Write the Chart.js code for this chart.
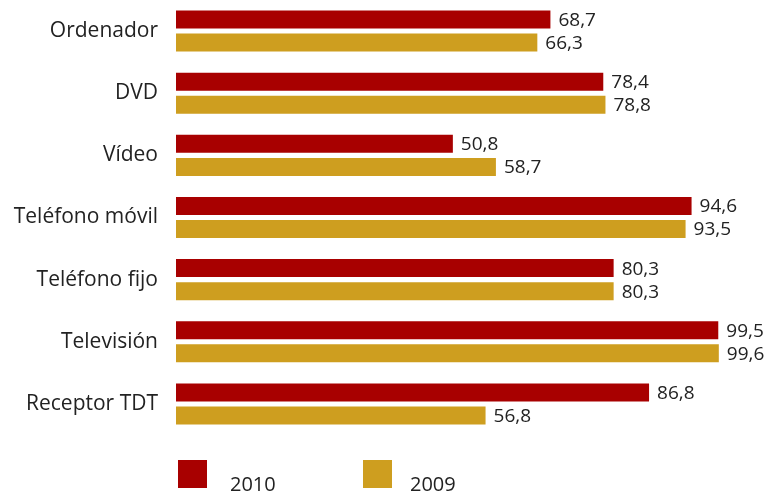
<!DOCTYPE html>
<html><head><meta charset="utf-8">
<script src="https://cdn.jsdelivr.net/npm/chart.js@4/dist/chart.umd.min.js"></script>
<style>html,body{margin:0;padding:0;background:#fff}#wrap{width:769px;height:492px}</style>
</head><body><div id="wrap"><canvas id="c"></canvas></div>
<script>
const categories = ["Ordenador","DVD","Vídeo","Teléfono móvil","Teléfono fijo","Televisión","Receptor TDT"];
const values2010 = [68.7,78.4,50.8,94.6,80.3,99.5,86.8];
const values2009 = [66.3,78.8,58.7,93.5,80.3,99.6,56.8];
const seriesLabels = ["2010","2009"];
const colors = ["#A80000","#CE9E1F"];
const FONT = "'Open Sans', sans-serif";

const valueLabels = {
  id:'valueLabels',
  afterDatasetsDraw(chart){
    const ctx = chart.ctx;
    ctx.save();
    ctx.fillStyle = '#222';
    ctx.font = '19px ' + FONT;
    ctx.textBaseline = 'middle';
    ctx.textAlign = 'left';
    chart.data.datasets.forEach((ds,i)=>{
      chart.getDatasetMeta(i).data.forEach((bar,j)=>{
        ctx.fillText(ds.data[j].toFixed(1).replace('.',','), bar.x + 8, bar.y + 1);
      });
    });
    ctx.restore();
  }
};
const customLegend = {
  id:'customLegend',
  afterDraw(chart){
    const ctx = chart.ctx;
    ctx.save();
    const xs = [178, 363];
    const tx = [230, 410];
    chart.data.datasets.forEach((ds,i)=>{
      ctx.fillStyle = ds.backgroundColor;
      ctx.fillRect(xs[i], 460, 29, 28);
      ctx.fillStyle = '#222';
      ctx.font = '20px ' + FONT;
      ctx.textBaseline = 'alphabetic';
      ctx.textAlign = 'left';
      ctx.fillText(ds.label, tx[i], 491);
    });
    ctx.restore();
  }
};

new Chart(document.getElementById('c'), {
  type:'bar',
  data:{
    labels: categories,
    datasets:[
      {label:seriesLabels[0], data:values2010, backgroundColor:colors[0]},
      {label:seriesLabels[1], data:values2009, backgroundColor:colors[1]}
    ]
  },
  options:{
    indexAxis:'y',
    responsive:true, maintainAspectRatio:false, animation:false,
    categoryPercentage:0.742, barPercentage:0.78,
    layout:{padding:{top:0,right:48,bottom:57,left:0}},
    plugins:{legend:{display:false}, tooltip:{enabled:false}},
    scales:{
      x:{min:0,max:100,display:false},
      y:{
        grid:{display:false, drawTicks:false}, border:{display:false},
        afterFit(s){ s.width = 176; s.paddingTop = 0; s.paddingBottom = 0; },
        ticks:{padding:18, color:'#222', font:{family:FONT, size:21}}
      }
    }
  },
  plugins:[valueLabels, customLegend]
});
</script></body></html>
